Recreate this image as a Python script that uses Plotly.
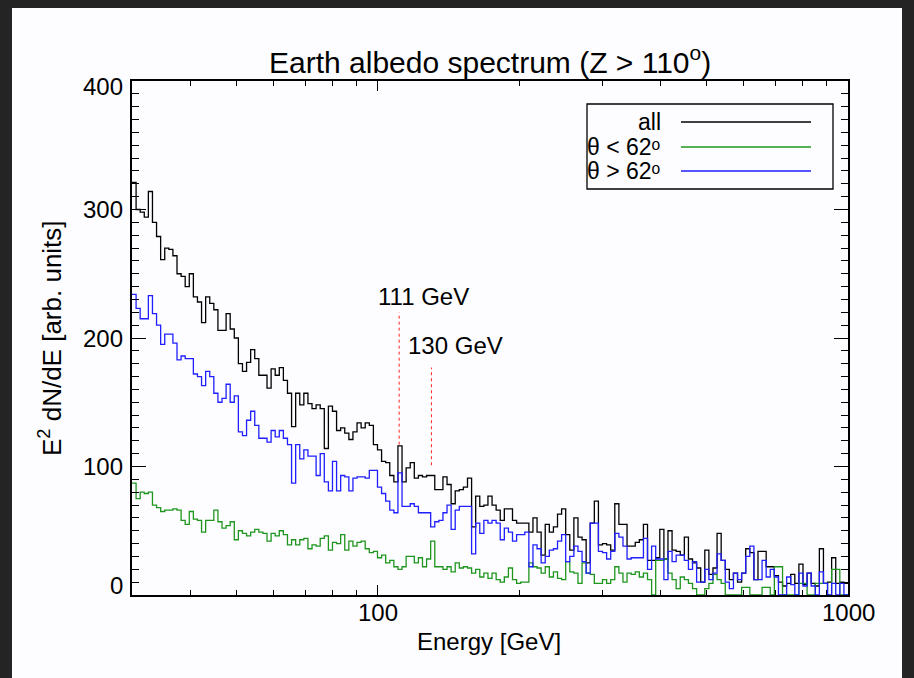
import numpy as np
import plotly.graph_objects as go

# ---------------- data ----------------
E_MIN, E_MAX, N_BINS = 30.0, 1000.0, 175

all_vals = [321,300,298,294,314,290,279,261,270,269,264,250,248,240,250,232,228,212,232,227,
            222,206,206,219,207,200,180,174,181,191,184,171,171,161,176,171,177,167,157,131,
            157,148,157,
            149,145,148,145,114,147,143,128,130,126,121,127,134,130,134,132,117,113,104,103,
            93,88,116,88,99,103,91,93,92,93,93,82,82,92,
            86,71,81,82,84,91,53,77,69,70,77,70,66,58,67,67,58,56,
            56,56,49,60,49,31,55,49,53,63,67,47,35,60,45,43,25,56,73,39,40,39,35,71,55,55,
            38,38,41,43,55,27,27,29,51,28,50,35,34,31,45,28,25,21,10,35,16,21,48,27,20,12,
            17,10,17,36,33,12,34,34,22,22,15,10,7,9,16,9,24,8,17,9,7,36,9,10,29,9,10,9]

lo_vals = [87,75,80,79,80,70,68,65,66,66,67,66,58,55,65,59,58,49,58,58,66,57,52,54,57,43,
           50,48,46,49,51,49,48,42,48,46,50,47,39,43,39,43,44,
           36,39,38,44,46,35,41,40,47,35,42,38,41,42,36,33,34,29,31,25,27,22,20,22,30,30,
           25,29,22,28,42,22,22,20,22,18,25,21,22,21,17,20,14,17,13,17,12,10,14,21,12,9,
           10,10,25,22,21,17,22,14,18,13,12,26,18,17,9,25,17,16,9,9,12,9,12,22,17,10,17,16,
           18,14,17,12,0,27,27,28,17,12,5,14,12,9,5,0,0,5,9,16,12,9,0,0,0,0,6,6,0,0,0,6,
           6,0,22,22,0,0,0,0,9,9,0,0,9,9,9,0,20,20,0,0]

hi_vals = [234,223,215,215,233,219,210,195,203,203,196,183,186,184,184,172,170,163,174,170,
           157,150,153,164,150,155,127,124,136,143,132,122,122,119,128,123,128,122,117,87,
           117,106,113,
           108,108,93,110,88,81,104,81,93,92,81,91,92,92,91,97,97,84,79,73,66,64,95,69,69,
           71,69,64,64,64,53,57,58,64,70,51,66,69,69,69,32,56,48,58,56,58,56,43,52,49,42,47,
           47,49,22,39,36,25,30,35,36,42,47,26,30,38,34,26,17,56,56,34,33,28,34,48,45,38,
           28,29,29,29,44,20,38,28,28,12,34,26,31,31,27,20,26,10,10,20,12,17,32,27,10,5,17,
           12,17,30,38,12,12,27,14,20,14,0,0,14,8,0,17,7,17,7,0,18,9,0,9,0,9,0]

for name, arr in (("all", all_vals), ("lo", lo_vals), ("hi", hi_vals)):
    assert len(arr) == N_BINS, (name, len(arr))

series_names = ["all", "θ < 62ᵒ", "θ > 62ᵒ"]
series_colors = ["#000000", "#1e961e", "#1f1fff"]

marker_energies = [111, 130]
marker_tops = [220, 177]
marker_bottoms = [117, 101]
marker_labels = ["111 GeV", "130 GeV"]

y_ticks = [0, 100, 200, 300, 400]
y_tick_shift = [10, 0, 0, 0, -5]      # label nudges (px), as in the original
x_ticks = [100, 1000]
x_minor = [40, 50, 60, 70, 80, 90, 200, 300, 400, 500, 600, 700, 800, 900]

# ---------------- geometry ----------------
W, H = 914, 678
L, R, T, B = 132, 848, 81, 595
PW, PH = R - L, B - T

def px(x):
    return (x - L) / PW

def py(y):
    return (B - y) / PH

edges = np.logspace(np.log10(E_MIN), np.log10(E_MAX), N_BINS + 1)

def step_xy(vals):
    return list(edges), list(vals) + [vals[-1]]

fig = go.Figure()
for vals, col in zip([all_vals, lo_vals, hi_vals], series_colors):
    x, y = step_xy(vals)
    fig.add_trace(go.Scatter(x=x, y=y, mode="lines", line_shape="hv",
                             line=dict(color=col, width=1.3), showlegend=False,
                             hoverinfo="skip"))

for e, y0, y1 in zip(marker_energies, marker_bottoms, marker_tops):
    fig.add_trace(go.Scatter(x=[e, e], y=[y0, y1], mode="lines",
                             line=dict(color="#ff2020", width=1, dash="dot"),
                             showlegend=False, hoverinfo="skip"))

FONT = "Liberation Sans, Arial, Helvetica, sans-serif"
TXT = dict(showarrow=False, xanchor="center", yanchor="middle")
annotations = []
annotations.append(dict(text="Earth albedo spectrum (Z > 110<sup>o</sup>)", x=0.5, y=py(60),
                        xref="paper", yref="paper",
                        font=dict(size=30, color="black", family=FONT), **TXT))
annotations.append(dict(text="Energy [GeV]", x=px(489), y=py(641), xref="paper", yref="paper",
                        font=dict(size=24, color="black", family=FONT), **TXT))
annotations.append(dict(text="E<sup>2</sup> dN/dE [arb. units]", x=px(50), y=py(338),
                        xref="paper", yref="paper", textangle=-90,
                        font=dict(size=26, color="black", family=FONT), **TXT))
for lab, lx, ly in zip(marker_labels, [423, 455], [296, 345]):
    annotations.append(dict(text=lab, x=px(lx), y=py(ly), xref="paper", yref="paper",
                            font=dict(size=24, color="black", family=FONT), **TXT))

# tick labels
for v, s in zip(y_ticks, y_tick_shift):
    annotations.append(dict(text=str(v), x=px(125), y=v, xref="paper", yref="y",
                            yshift=s, showarrow=False, xanchor="right", yanchor="middle",
                            font=dict(size=24, color="black", family=FONT)))
for v in x_ticks:
    annotations.append(dict(text=str(v), x=np.log10(v), y=py(612), xref="x", yref="paper",
                            font=dict(size=24, color="black", family=FONT), **TXT))

# background panel and hand-drawn legend (text right-aligned, sample line on the right)
shapes = []
shapes.append(dict(type="rect", xref="paper", yref="paper", x0=px(12), x1=px(902),
                   y0=py(678), y1=py(8), fillcolor="#fdfdff", line=dict(width=0),
                   layer="below"))
shapes.append(dict(type="rect", xref="paper", yref="paper", x0=px(587), x1=px(833),
                   y0=py(189), y1=py(104), fillcolor="rgba(0,0,0,0)",
                   line=dict(color="black", width=1.3)))
for name, col, ly in zip(series_names, series_colors, [122, 147, 171]):
    annotations.append(dict(text=name, x=px(663), y=py(ly), xref="paper", yref="paper",
                            showarrow=False, xanchor="right", yanchor="middle",
                            font=dict(size=23, color="black", family=FONT)))
    shapes.append(dict(type="line", xref="paper", yref="paper", x0=px(681), x1=px(811),
                       y0=py(ly), y1=py(ly), line=dict(color=col, width=1.3)))

fig.update_layout(
    width=W, height=H,
    margin=dict(l=L, r=W - R, t=T, b=H - B, pad=0),
    paper_bgcolor="#242424", plot_bgcolor="#fdfdff",
    font=dict(family=FONT, size=24, color="black"),
    annotations=annotations, shapes=shapes,
    showlegend=False,
)
fig.update_xaxes(type="log", range=[np.log10(E_MIN), np.log10(E_MAX)],
                 tickmode="array", tickvals=x_ticks, showticklabels=False,
                 ticks="inside", ticklen=10, tickwidth=1.3, tickcolor="black",
                 minor=dict(tickmode="array", tickvals=x_minor, ticks="inside", ticklen=5,
                            tickwidth=1.3, tickcolor="black"),
                 showline=True, linecolor="black", linewidth=1.5, mirror="allticks",
                 showgrid=False, zeroline=False)
fig.update_yaxes(range=[0, 400], tickmode="array", tickvals=y_ticks, showticklabels=False,
                 ticks="inside", ticklen=14, tickwidth=1.3, tickcolor="black",
                 minor=dict(dtick=10, ticks="inside", ticklen=7, tickwidth=1.3,
                            tickcolor="black"),
                 showline=True, linecolor="black", linewidth=1.5, mirror="allticks",
                 showgrid=False, zeroline=False)

fig.write_html("out.html")
